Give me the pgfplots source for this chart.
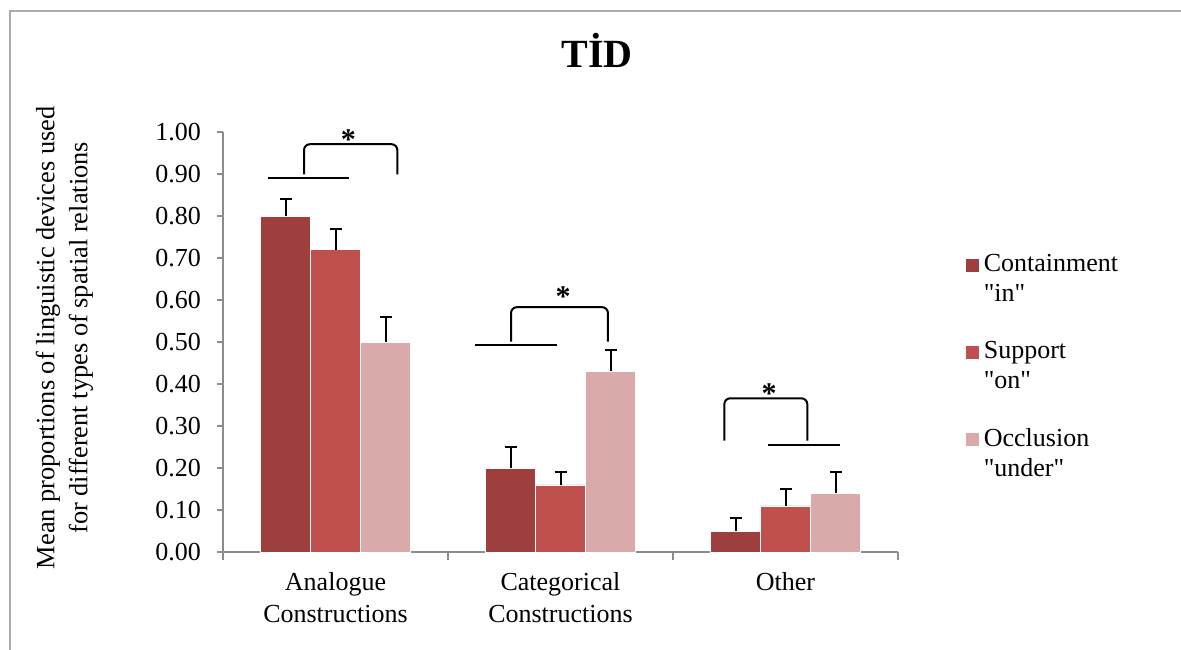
\documentclass[border=0pt]{standalone}
\usepackage{fontspec}
\setmainfont{Liberation Serif}[Ligatures=TeXOff]
\usepackage{pgfplots}
\usepackage{pgfplotstable}
\pgfplotsset{compat=1.18}

\definecolor{cin}{HTML}{9E3F3E}
\definecolor{con}{HTML}{C0504D}
\definecolor{cunder}{HTML}{DAAAAA}
\definecolor{axgray}{HTML}{8C8C8C}

% x = category, y = mean proportion, e = upper error
\pgfplotstableread{
x y e
0 0.80 0.04
1 0.20 0.05
2 0.05 0.03
}\tin
\pgfplotstableread{
x y e
0 0.72 0.05
1 0.16 0.03
2 0.11 0.04
}\ton
\pgfplotstableread{
x y e
0 0.50 0.06
1 0.43 0.05
2 0.14 0.05
}\tunder

\begin{document}
\fontsize{13}{16}\selectfont
\begin{tikzpicture}
\path[use as bounding box] (0,0) rectangle (590.5pt,324.5pt);
\draw[gray!65, line width=1pt] (5pt,-5pt) -- (5pt,319pt) -- (600pt,319pt);
\node[anchor=base, font=\fontsize{20}{24}\selectfont\bfseries] at (298.5pt,290.5pt) {TİD};

\begin{axis}[
  at={(111.5pt,48.5pt)}, anchor=south west,
  scale only axis, width=337.5pt, height=210pt,
  ybar=0pt, bar width=25pt,
  xmin=-0.5, xmax=2.5, ymin=0, ymax=1,
  axis x line*=bottom, axis y line*=left,
  axis line style={axgray, line width=0.8pt, -},
  tick align=outside,
  xtick={0,1,2},
  xticklabels={{Analogue\\Constructions},{Categorical\\Constructions},{Other}},
  xticklabel style={align=center, font=\fontsize{13}{16.3}\selectfont, yshift=-2.5pt},
  major x tick style={draw=none},
  minor xtick={-0.5,0.5,1.5,2.5},
  minor tick length=4pt,
  minor x tick style={axgray, line width=0.8pt},
  ytick={0,0.1,...,1.01},
  major tick length=3pt,
  y tick style={axgray, line width=0.8pt},
  /pgf/number format/assume math mode=true,
  yticklabel style={font=\fontsize{13}{16}\selectfont, xshift=-3.5pt,
    /pgf/number format/fixed, /pgf/number format/fixed zerofill,
    /pgf/number format/precision=2},
  ylabel={Mean proportions of linguistic devices used\\for different types of spatial relations},
  ylabel style={align=center, font=\fontsize{13.2}{16.5}\selectfont,
    at={(axis description cs:-0.235,0.51)}, anchor=center},
  clip=false,
  legend cell align=left,
  legend style={draw=none, fill=none, inner sep=0pt,
    at={(axis description cs:1.099,0.719)}, anchor=north west,
    nodes={align=left, font=\fontsize{13}{15}\selectfont},
    row sep=14pt},
  legend image code/.code={\fill[#1] (0pt,4pt) rectangle (7pt,11pt);},
  error bars/y dir=plus, error bars/y explicit,
  error bars/error bar style={black, line width=1pt},
  error bars/error mark options={black, line width=1pt, mark size=3pt, rotate=90},
]
\addplot[fill=cin, draw=white, line width=0.3pt] table[x=x, y=y, y error=e] {\tin};
\addplot[fill=con, draw=white, line width=0.3pt] table[x=x, y=y, y error=e] {\ton};
\addplot[fill=cunder, draw=white, line width=0.3pt] table[x=x, y=y, y error=e] {\tunder};
\addlegendentry{Containment\\"in"}
\addlegendentry{Support\\"on"}
\addlegendentry{Occlusion\\"under"}

% significance brackets
\begin{scope}[black, line width=1pt, rounded corners=3pt]
\draw (axis cs:-0.299,0.890) -- (axis cs:0.059,0.890);
\draw (axis cs:-0.14,0.899) -- (axis cs:-0.14,0.971) -- (axis cs:0.275,0.971) -- (axis cs:0.275,0.899);
\draw (axis cs:0.62,0.492) -- (axis cs:0.986,0.492);
\draw (axis cs:0.78,0.501) -- (axis cs:0.78,0.583) -- (axis cs:1.211,0.583) -- (axis cs:1.211,0.501);
\draw (axis cs:1.924,0.254) -- (axis cs:2.242,0.254);
\draw (axis cs:1.728,0.265) -- (axis cs:1.728,0.366) -- (axis cs:2.097,0.366) -- (axis cs:2.097,0.265);
\end{scope}
\node[font=\fontsize{15}{15}\selectfont\bfseries, inner sep=0pt] at (axis cs:0.057,0.983) {*};
\node[font=\fontsize{15}{15}\selectfont\bfseries, inner sep=0pt] at (axis cs:1.012,0.608) {*};
\node[font=\fontsize{15}{15}\selectfont\bfseries, inner sep=0pt] at (axis cs:1.927,0.376) {*};
\end{axis}
\end{tikzpicture}
\end{document}
